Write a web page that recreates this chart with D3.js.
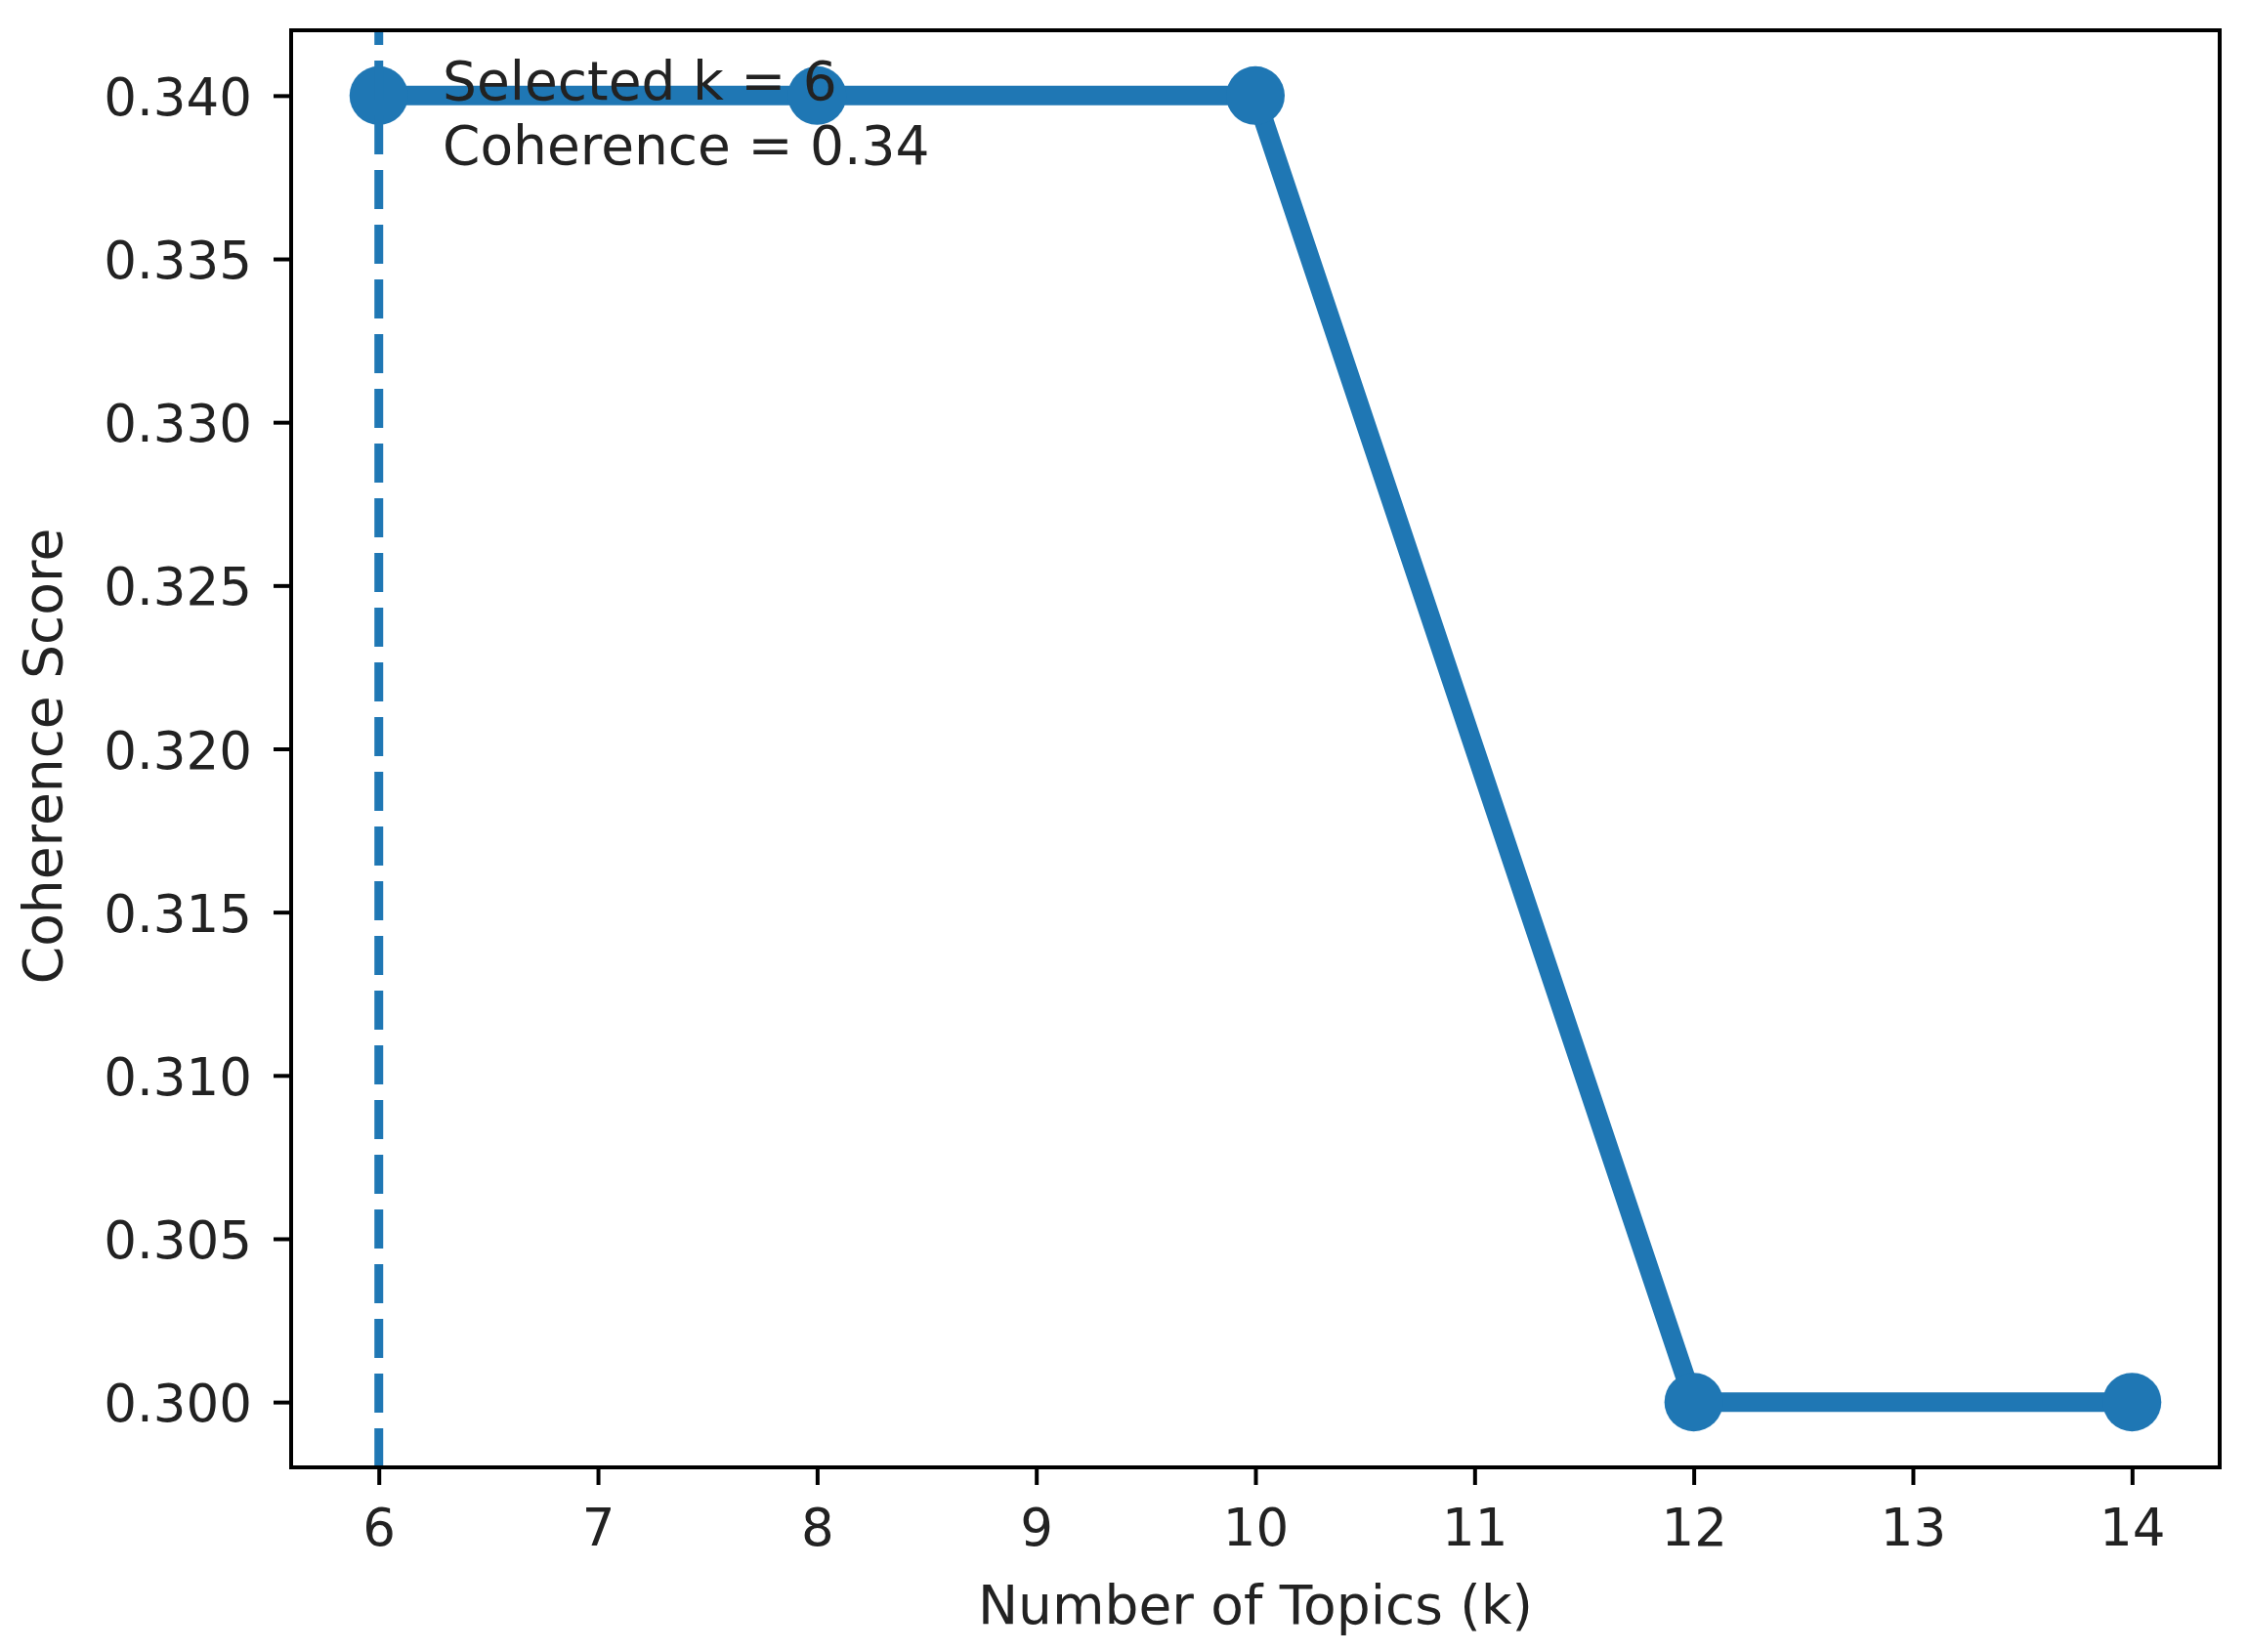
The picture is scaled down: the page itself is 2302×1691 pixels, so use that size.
<!DOCTYPE html>
<meta charset="utf-8">
<script src="https://cdnjs.cloudflare.com/ajax/libs/d3/7.8.5/d3.min.js"></script>
<style>
  body { margin: 0; background: #fff; }
  text { font-family: "DejaVu Sans", sans-serif; fill: #222; }
</style>
<body>
<script>

// data
var topics = [6, 8, 10, 12, 14];
var coherence = [0.34, 0.34, 0.34, 0.30, 0.30];
var xTicks = [6, 7, 8, 9, 10, 11, 12, 13, 14];
var yTicks = [0.300, 0.305, 0.310, 0.315, 0.320, 0.325, 0.330, 0.335, 0.340];
var selectedK = 6;
var selectedScore = 0.34;

var W = 2302, H = 1691;
var plotL = 298, plotR = 2272, plotT = 31, plotB = 1502;
var blue = "#1f77b4";
var fs = 53;     // tick labels
var fsLab = 55;  // axis labels + note

var svg = d3.select("body").append("svg")
    .attr("width", W)
    .attr("height", H);

svg.append("rect").attr("width", W).attr("height", H).attr("fill", "#fff");

var x = d3.scaleLinear().domain([5.6, 14.4]).range([plotL, plotR]);
var y = d3.scaleLinear().domain([0.298, 0.342]).range([plotB, plotT]);

// axes
var xAxis = svg.append("g")
  .attr("transform", "translate(0," + plotB + ")")
  .call(d3.axisBottom(x).tickValues(xTicks).tickFormat(d3.format("d")).tickSize(18).tickPadding(24));
var yAxis = svg.append("g")
  .attr("transform", "translate(" + plotL + ",0)")
  .call(d3.axisLeft(y).tickValues(yTicks).tickFormat(d3.format(".3f")).tickSize(18).tickPadding(22));

[xAxis, yAxis].forEach(function(a) {
  a.select(".domain").remove();
  a.selectAll(".tick line").attr("stroke", "#000").attr("stroke-width", 4);
  a.selectAll(".tick text").style("font-size", fs + "px").attr("fill", "#222")
    .style("font-family", "DejaVu Sans");
});
yAxis.selectAll(".tick text").attr("dy", "0.37em");

// line + markers
var pts = topics.map(function(k, i) { return [k, coherence[i]]; });
var line = d3.line()
  .x(function(d) { return x(d[0]); })
  .y(function(d) { return y(d[1]); });

svg.append("path")
  .datum(pts)
  .attr("d", line)
  .attr("fill", "none")
  .attr("stroke", blue)
  .attr("stroke-width", 20)
  .attr("stroke-linejoin", "round");

svg.selectAll(".dot").data(pts).enter().append("circle")
  .attr("class", "dot")
  .attr("cx", function(d) { return x(d[0]); })
  .attr("cy", function(d) { return y(d[1]); })
  .attr("r", 30)
  .attr("fill", blue);

// selected k vertical dashed line (drawn bottom to top)
svg.append("line")
  .attr("x1", x(selectedK)).attr("x2", x(selectedK))
  .attr("y1", plotB).attr("y2", plotT)
  .attr("stroke", blue)
  .attr("stroke-width", 9)
  .attr("stroke-dasharray", "40,16");

// frame
svg.append("rect")
  .attr("x", plotL).attr("y", plotT)
  .attr("width", plotR - plotL).attr("height", plotB - plotT)
  .attr("fill", "none")
  .attr("stroke", "#000")
  .attr("stroke-width", 4);

// annotation
var ann = svg.append("text")
  .attr("x", 453)
  .attr("y", 102)
  .style("font-size", fsLab + "px");
ann.append("tspan").attr("x", 453).text("Selected k = " + selectedK);
ann.append("tspan").attr("x", 453).attr("dy", 66).text("Coherence = " + selectedScore.toFixed(2));

// axis labels
svg.append("text")
  .attr("x", (plotL + plotR) / 2)
  .attr("y", 1662)
  .attr("text-anchor", "middle")
  .style("font-size", fsLab + "px")
  .text("Number of Topics (k)");

svg.append("text")
  .attr("transform", "translate(63,774) rotate(-90)")
  .attr("text-anchor", "middle")
  .style("font-size", fsLab + "px")
  .text("Coherence Score");

</script>
</body>
</html>
